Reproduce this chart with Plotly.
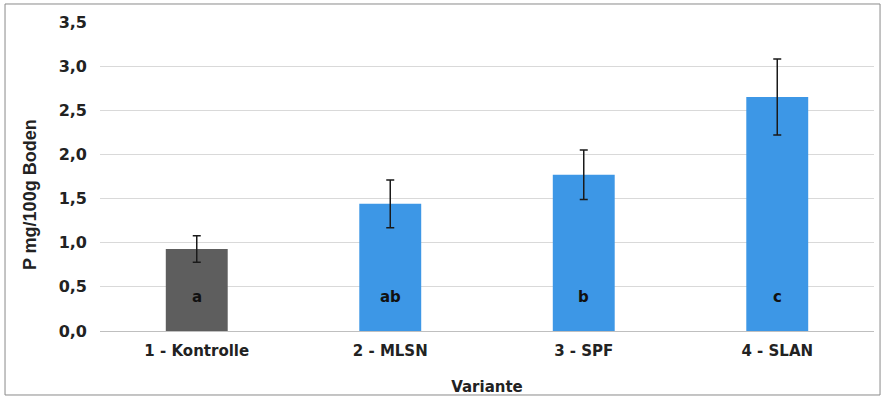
import plotly.graph_objects as go

categories = ["1 - Kontrolle", "2 - MLSN", "3 - SPF", "4 - SLAN"]
values = [0.93, 1.44, 1.77, 2.65]
errors = [0.15, 0.27, 0.28, 0.43]
letters = ["a", "ab", "b", "c"]
bar_colors = ["#5e5e5e", "#3d97e6", "#3d97e6", "#3d97e6"]
y_ticks = [0, 0.5, 1.0, 1.5, 2.0, 2.5, 3.0, 3.5]
y_title = "P mg/100g Boden"
x_title = "Variante"

WIDE = "DejaVu Sans, sans-serif"
NARROW = "Liberation Sans, Arial, sans-serif"

fig = go.Figure()
fig.add_trace(go.Bar(
    x=categories, y=values,
    marker=dict(color=bar_colors, line=dict(width=0)),
    width=0.32,
    error_y=dict(type="data", array=errors, visible=True,
                 color="#1a1a1a", thickness=1.5, width=4),
    showlegend=False,
))

for c, l in zip(categories, letters):
    fig.add_annotation(x=c, y=0.38, text=l, showarrow=False,
                       font=dict(family=WIDE, size=15, color="#111111", weight="bold"),
                       xref="x", yref="y")

# y-axis title placed as rotated annotation (offset below the plot centre, as in the original)
fig.add_annotation(xref="paper", yref="paper", x=-0.0904, y=0.44,
                   text=y_title, textangle=-90, showarrow=False,
                   xanchor="center", yanchor="middle",
                   font=dict(family=NARROW, size=18, weight="bold", color="#222222"))

fig.add_shape(type="rect", xref="paper", yref="paper",
              x0=-0.1227, x1=1.0078, y0=-0.2071, y1=1.0583,
              line=dict(color="#8a8a8a", width=1), fillcolor="rgba(0,0,0,0)")

fig.update_layout(
    width=883, height=398,
    margin=dict(l=100, r=9, t=22, b=67),
    paper_bgcolor="white", plot_bgcolor="white",
    separators=",.",
    font=dict(family=WIDE, size=15, color="#222222"),
    xaxis=dict(
        title=dict(text=x_title, standoff=22,
                   font=dict(family=WIDE, size=15, weight="bold", color="#222222")),
        tickfont=dict(family=WIDE, size=15, weight="bold", color="#222222"),
        ticklabelstandoff=9,
        showgrid=False, showline=False, ticks="",
        automargin=False,
    ),
    yaxis=dict(
        range=[0, 3.5], tickvals=y_ticks, tickformat=".1f",
        tickfont=dict(family=WIDE, size=16, weight="bold", color="#222222"),
        showgrid=True, gridcolor="#d9d9d9", gridwidth=1,
        zeroline=True, zerolinecolor="#bfbfbf", zerolinewidth=1,
        showline=False, ticks="", ticklabelstandoff=12,
        automargin=False,
    ),
    bargap=0.68,
)

fig.write_html("out.html", config={"displayModeBar": False})

with open("out.html", "r", encoding="utf-8") as f:
    html = f.read()
html = html.replace("<body>", '<body style="margin:0;padding:0;overflow:hidden">', 1)
with open("out.html", "w", encoding="utf-8") as f:
    f.write(html)
